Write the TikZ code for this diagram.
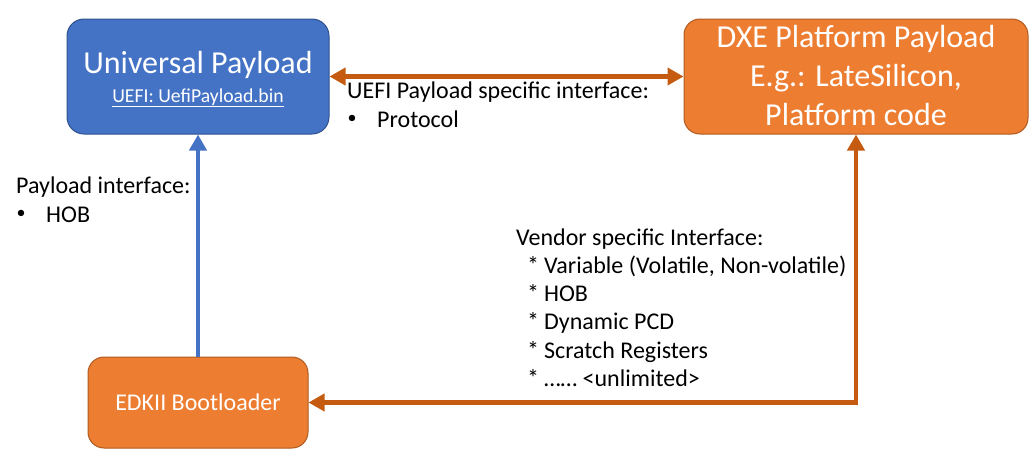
\documentclass[tikz,border=0pt]{standalone}
\usepackage{fontspec}
\setmainfont{Carlito}
\usetikzlibrary{arrows.meta}
\definecolor{ublue}{HTML}{4472C4}
\definecolor{ubluedark}{HTML}{2F528F}
\definecolor{uorange}{HTML}{ED7D31}
\definecolor{uorangedark}{HTML}{AE5A21}
\definecolor{uarrow}{HTML}{C55A11}
\tikzset{
  bluebox/.style={draw=ubluedark, fill=ublue, line width=1pt, rounded corners=17pt, inner sep=0pt},
  orangebox/.style={draw=uorangedark, fill=uorange, line width=1pt, rounded corners=16pt, inner sep=0pt},
  wtext/.style={text=white, inner sep=0pt, anchor=base},
  btext/.style={text=black, inner sep=0pt, anchor=base west, font=\fontsize{24}{29}\selectfont},
  bullet/.style={text=black, inner sep=0pt, anchor=base west, font=\fontsize{18}{22}\selectfont},
  oarrow/.style={draw=uarrow, line width=4.5pt, {Triangle[length=16pt,width=17pt]}-{Triangle[length=16pt,width=17pt]}},
  barrow/.style={draw=ublue, line width=4.5pt, -{Triangle[length=16pt,width=17pt]}},
}
\begin{document}
\begin{tikzpicture}[x=1pt,y=-1pt]
\useasboundingbox (0,0) rectangle (1035,456);
% boxes
\node[bluebox, minimum width=262pt, minimum height=115pt] (up) at (198,76.5) {};
\node[orangebox, minimum width=344pt, minimum height=115pt] (dxe) at (856,76.5) {};
\node[orangebox, minimum width=220pt, minimum height=91pt] (edk) at (198,402.5) {};
% box texts
\node[wtext, font=\fontsize{32}{39}\selectfont] (upt1) at (198,73) {Universal Payload};
\node[wtext, font=\fontsize{19.7}{23}\selectfont] (upt2) at (198,102) {\underline{UEFI: UefiPayload.bin}};
\node[wtext, font=\fontsize{32}{39}\selectfont] (dxt1) at (856,47) {DXE Platform Payload};
\node[wtext, font=\fontsize{32}{39}\selectfont] (dxt2) at (856,86) {E.g.: LateSilicon,};
\node[wtext, font=\fontsize{32}{39}\selectfont] (dxt3) at (856,125) {Platform code};
\node[wtext, font=\fontsize{24}{29}\selectfont] (edt) at (198,410.5) {EDKII Bootloader};
% connectors
\draw[oarrow] (up.east) -- (dxe.west);
\draw[barrow] (edk.north) -- (up.south);
\draw[oarrow] (edk.east) -| (dxe.south);
% labels
\node[btext] (l1) at (347,98) {UEFI Payload specific interface:};
\node[bullet] (l2b) at (347.5,123.5) {•};
\node[btext] (l2) at (377,127) {Protocol};
\node[btext] (p1) at (16,193) {Payload interface:};
\node[bullet] (p2b) at (16.5,218.5) {•};
\node[btext] (p2) at (46,222) {HOB};
\node[btext] (v0) at (516,245) {Vendor specific Interface:};
\node[btext] (v1) at (527,273.3) {*\hspace{5pt}Variable (Volatile, Non-volatile)};
\node[btext] (v2) at (527,301.6) {*\hspace{5pt}HOB};
\node[btext] (v3) at (527,329.9) {*\hspace{5pt}Dynamic PCD};
\node[btext] (v4) at (527,358.2) {*\hspace{5pt}Scratch Registers};
\node[btext] (v5) at (527,386.5) {*\hspace{5pt}…… <unlimited>};
\end{tikzpicture}
\end{document}
